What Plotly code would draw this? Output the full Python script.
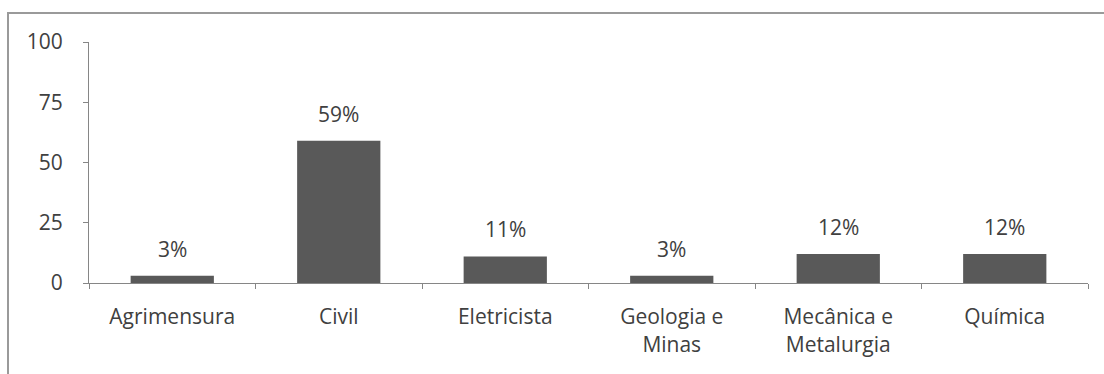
import plotly.graph_objects as go

categories = ["Agrimensura", "Civil", "Eletricista", "Geologia e<br>Minas",
              "Mecânica e<br>Metalurgia", "Química"]
values = [3, 59, 11, 3, 12, 12]
labels = ["3%", "59%", "11%", "3%", "12%", "12%"]
y_ticks = [0, 25, 50, 75, 100]

BAR = "#595959"
TEXT = "#404040"
FONT = "Open Sans, Lato, sans-serif"
FS = 21

fig = go.Figure(go.Bar(x=categories, y=values, marker=dict(color=BAR, line=dict(width=0))))

# value labels floating above each bar
for c, v, t in zip(categories, values, labels):
    fig.add_annotation(x=c, y=v, text=t, showarrow=False, yshift=27,
                       font=dict(size=FS, color=TEXT, family=FONT))

W, H = 1104, 374
ml, mr, mt, mb = 89, 16, 42, 91
pw, ph = W - ml - mr, H - mt - mb

# chart frame around the whole figure
fig.add_shape(type="rect", xref="paper", yref="paper",
              x0=(8 - ml) / pw, x1=(1110 - ml) / pw,
              y0=(H - mb - 390) / ph, y1=(H - mb - 13) / ph,
              line=dict(color="#9a9a9a", width=2), layer="below")

fig.update_layout(
    width=W, height=H,
    margin=dict(l=ml, r=mr, t=mt, b=mb),
    paper_bgcolor="white", plot_bgcolor="white",
    bargap=0.5, showlegend=False,
    font=dict(family=FONT, size=FS, color=TEXT),
)
fig.update_xaxes(showline=True, linecolor="#868686", linewidth=1,
                 ticks="outside", tickson="boundaries", ticklen=5,
                 tickcolor="#868686", tickfont=dict(size=FS, color=TEXT),
                 ticklabelstandoff=15, showgrid=False)
fig.update_yaxes(range=[0, 100], tickvals=y_ticks, showline=True,
                 linecolor="#868686", linewidth=1, ticks="outside",
                 ticklen=5, tickcolor="#868686", showgrid=False,
                 ticklabelstandoff=16,
                 zeroline=False, tickfont=dict(size=FS, color=TEXT))

fig.write_html("out.html")
